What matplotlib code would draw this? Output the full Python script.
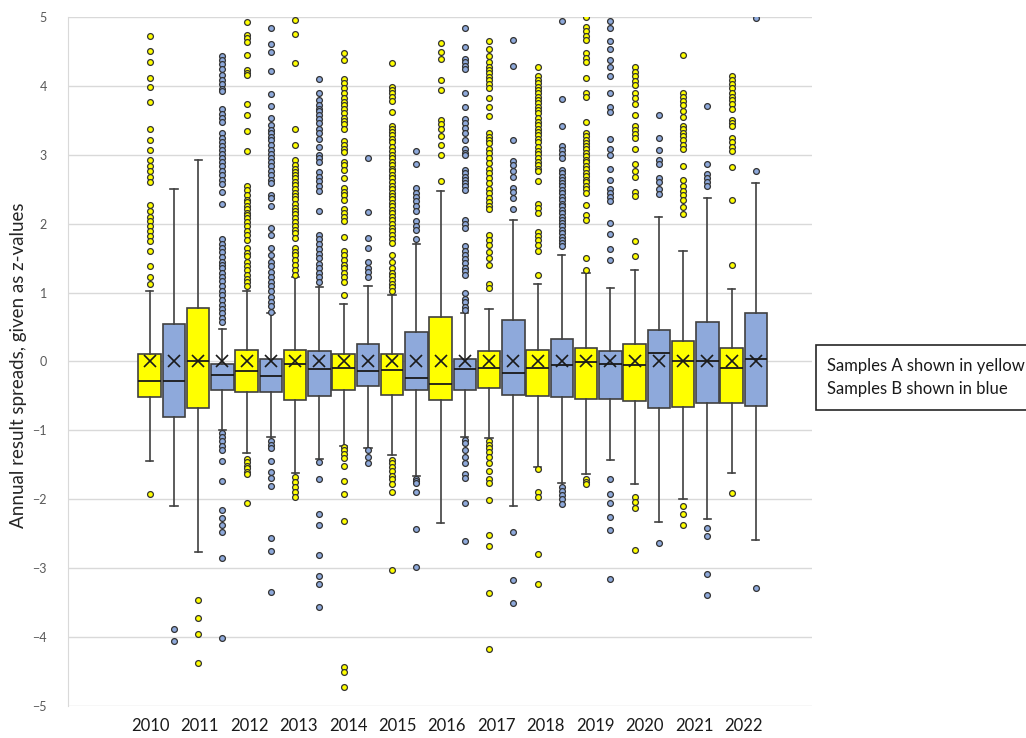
import numpy as np
import matplotlib
matplotlib.use('Agg')
import matplotlib.pyplot as plt
from matplotlib.patches import Rectangle

plt.rcParams['font.family'] = ['Lato', 'DejaVu Sans']

years = ['2010', '2011', '2012', '2013', '2014', '2015', '2016',
         '2017', '2018', '2019', '2020', '2021', '2022']

# Samples A (yellow boxes)
a_q1 = [-0.51, -0.68, -0.44, -0.56, -0.42, -0.48, -0.56, -0.38, -0.50, -0.54, -0.58, -0.66, -0.60]
a_med = [-0.28, 0.00, -0.14, -0.03, -0.09, -0.13, -0.32, -0.09, -0.09, -0.01, -0.05, 0.01, -0.09]
a_q3 = [0.11, 0.78, 0.17, 0.17, 0.11, 0.11, 0.65, 0.15, 0.17, 0.19, 0.25, 0.29, 0.19]
a_lo = [-1.44, -2.77, -1.33, -1.62, -1.22, -1.36, -2.34, -1.11, -1.53, -1.64, -1.78, -2.00, -1.62]
a_hi = [1.03, 2.93, 1.03, 1.23, 0.84, 0.97, 2.47, 0.76, 1.13, 1.28, 1.33, 1.61, 1.05]
a_mean = [0.0] * 13
a_fliers = [
    [4.73, 4.51, 4.35, 4.12, 3.98, 3.76, 3.37, 3.21, 3.07, 2.93, 2.84, 2.77, 2.68, 2.61, 2.27,
     2.18, 2.10, 2.04, 1.96, 1.90, 1.82, 1.75, 1.61, 1.38, 1.22, 1.13, -1.93],
    [-3.46, -3.72, -3.95, -4.37],
    [4.92, 4.74, 4.69, 4.63, 4.45, 4.23, 4.18, 4.16, 3.73, 3.58, 3.35, 3.05, 2.55, 2.49, 2.42,
     2.35, 2.31, 2.26, 2.21, 2.16, 2.13, 2.08, 2.03, 1.96, 1.90, 1.83, 1.77, 1.65, 1.58, 1.53,
     1.45, 1.39, 1.33, 1.26, 1.20, 1.15, 1.10,
     -1.41, -1.46, -1.51, -1.55, -1.60, -1.64, -2.06],
    [4.96, 4.75, 4.33, 3.37, 3.14, 2.92, 2.85, 2.80, 2.75, 2.71, 2.66, 2.61, 2.56, 2.51, 2.45,
     2.40, 2.36, 2.29, 2.23, 2.18, 2.14, 2.08, 2.02, 1.96, 1.91, 1.86, 1.79, 1.65, 1.59, 1.54,
     1.47, 1.40, 1.33, 1.25,
     -1.68, -1.75, -1.82, -1.89, -1.96],
    [4.47, 4.37, 4.10, 4.04, 3.97, 3.89, 3.83, 3.77, 3.72, 3.66, 3.60, 3.54, 3.49, 3.44, 3.37,
     3.20, 3.14, 3.09, 3.04, 2.90, 2.85, 2.78, 2.66, 2.52, 2.46, 2.41, 2.35, 2.21, 2.15, 2.10,
     2.04, 1.81, 1.60, 1.55, 1.48, 1.40, 1.35, 1.29, 1.22, 1.16, 0.97,
     -1.24, -1.29, -1.34, -1.40, -1.52, -1.73, -1.93, -2.32, -4.43, -4.51, -4.72],
    [4.33, 3.99, 3.94, 3.89, 3.84, 3.78, 3.62, 3.42, 3.37, 3.33, 3.28, 3.23, 3.18, 3.12, 3.05,
     3.00, 2.95, 2.90, 2.85, 2.80, 2.76, 2.71, 2.66, 2.60, 2.55, 2.50, 2.45, 2.40, 2.36, 2.30,
     2.25, 2.20, 2.15, 2.10, 2.05, 1.99, 1.94, 1.89, 1.83, 1.78, 1.72, 1.55, 1.45, 1.35, 1.29,
     1.24, 1.18, 1.13, 1.08, 1.02,
     -1.43, -1.48, -1.53, -1.59, -1.66, -1.71, -1.78, -1.89, -3.03],
    [4.62, 4.49, 4.39, 4.09, 3.94, 3.50, 3.44, 3.37, 3.27, 3.14, 3.00, 2.62],
    [4.65, 4.54, 4.43, 4.35, 4.28, 4.23, 4.18, 4.13, 4.09, 4.02, 3.97, 3.82, 3.70, 3.56, 3.31,
     3.26, 3.21, 3.17, 3.09, 3.02, 2.95, 2.88, 2.80, 2.73, 2.66, 2.59, 2.51, 2.45, 2.37, 2.31,
     2.25, 2.21, 1.83, 1.76, 1.69, 1.59, 1.50, 1.40, 1.13, 1.06,
     -1.16, -1.21, -1.25, -1.31, -1.38, -1.47, -1.59, -1.70, -1.76, -2.01, -2.52, -2.68, -3.36, -4.17],
    [4.27, 4.14, 4.09, 4.04, 3.99, 3.94, 3.89, 3.84, 3.80, 3.75, 3.70, 3.65, 3.60, 3.54, 3.48,
     3.43, 3.37, 3.33, 3.28, 3.23, 3.18, 3.12, 3.05, 3.01, 2.95, 2.90, 2.85, 2.80, 2.76, 2.62,
     2.29, 2.23, 2.16, 1.88, 1.82, 1.76, 1.69, 1.60, 1.26,
     -1.56, -1.89, -1.97, -2.79, -3.23],
    [5.00, 4.86, 4.79, 4.73, 4.67, 4.47, 4.40, 4.34, 4.11, 3.90, 3.84, 3.47, 3.32, 3.27, 3.22,
     3.17, 3.13, 3.08, 3.03, 2.98, 2.93, 2.89, 2.84, 2.79, 2.74, 2.69, 2.64, 2.60, 2.55, 2.50,
     2.45, 2.27, 2.13, 2.05, 1.50, 1.33,
     -1.70, -1.75, -1.78],
    [4.27, 4.20, 4.14, 4.07, 4.01, 3.90, 3.83, 3.73, 3.58, 3.42, 3.36, 3.30, 3.25, 3.09, 2.87,
     2.76, 2.68, 2.46, 2.40, 1.75, 1.53,
     -1.97, -2.04, -2.12, -2.73],
    [4.45, 3.90, 3.84, 3.78, 3.72, 3.63, 3.55, 3.42, 3.37, 3.32, 3.27, 3.21, 3.14, 3.09, 2.84,
     2.64, 2.54, 2.47, 2.42, 2.35, 2.24, 2.14,
     -2.10, -2.22, -2.38],
    [4.14, 4.09, 4.02, 3.97, 3.90, 3.84, 3.80, 3.73, 3.67, 3.51, 3.46, 3.42, 3.24, 3.18, 3.12,
     3.06, 2.82, 2.35, 1.40,
     -1.91],
]

# Samples B (blue boxes)
b_q1 = [-0.80, -0.42, -0.44, -0.50, -0.36, -0.42, -0.42, -0.48, -0.52, -0.54, -0.68, -0.60, -0.64]
b_med = [-0.28, -0.20, -0.21, -0.11, -0.14, -0.24, -0.11, -0.17, -0.05, -0.03, 0.13, 0.00, 0.03]
b_q3 = [0.54, -0.03, 0.03, 0.15, 0.25, 0.43, 0.04, 0.60, 0.33, 0.15, 0.46, 0.58, 0.70]
b_lo = [-2.10, -0.99, -1.09, -1.41, -1.25, -1.66, -1.09, -2.10, -1.76, -1.43, -2.33, -2.29, -2.59]
b_hi = [2.51, 0.47, 0.70, 1.08, 1.09, 1.70, 0.70, 2.06, 1.55, 1.06, 2.10, 2.37, 2.59]
b_mean = [0.0] * 13
b_fliers = [
    [-3.88, -4.05],
    [4.43, 4.38, 4.32, 4.25, 4.16, 4.09, 4.03, 3.96, 3.92, 3.66, 3.59, 3.53, 3.47, 3.31, 3.25,
     3.19, 3.13, 3.07, 3.01, 2.95, 2.89, 2.83, 2.76, 2.71, 2.64, 2.57, 2.46, 2.28, 1.78, 1.71,
     1.65, 1.59, 1.51, 1.45, 1.40, 1.35, 1.29, 1.23, 1.17, 1.10, 1.02, 0.96, 0.89, 0.82, 0.76,
     0.70, 0.63, 0.58,
     -1.04, -1.10, -1.15, -1.22, -1.28, -1.44, -1.73, -2.16, -2.27, -2.38, -2.48, -2.85, -4.01],
    [4.84, 4.61, 4.49, 4.21, 3.88, 3.71, 3.54, 3.43, 3.36, 3.31, 3.26, 3.21, 3.14, 3.07, 3.01,
     2.95, 2.89, 2.83, 2.76, 2.70, 2.64, 2.59, 2.42, 2.37, 2.25, 1.94, 1.84, 1.65, 1.55, 1.45,
     1.38, 1.30, 1.23, 1.16, 1.09, 1.02, 0.94, 0.87, 0.80, 0.72,
     -1.15, -1.21, -1.26, -1.44, -1.60, -1.69, -1.81, -2.56, -2.75, -3.34],
    [4.10, 3.90, 3.80, 3.72, 3.67, 3.63, 3.58, 3.52, 3.46, 3.38, 3.31, 3.23, 3.12, 3.00, 2.96,
     2.90, 2.75, 2.68, 2.62, 2.55, 2.47, 2.19, 1.84, 1.78, 1.70, 1.63, 1.56, 1.50, 1.42, 1.36,
     1.29, 1.22, 1.16,
     -1.46, -1.71, -2.22, -2.38, -2.81, -3.11, -3.23, -3.56],
    [2.96, 2.17, 1.79, 1.65, 1.45, 1.36, 1.30, 1.23,
     -1.29, -1.38, -1.47],
    [3.05, 2.87, 2.52, 2.45, 2.39, 2.33, 2.26, 2.18, 2.04, 1.97, 1.91, 1.78,
     -1.70, -1.74, -1.77, -1.89, -2.43, -2.99],
    [4.84, 4.57, 4.39, 4.34, 4.29, 4.24, 3.90, 3.70, 3.52, 3.46, 3.39, 3.32, 3.22, 3.09, 3.02,
     2.99, 2.78, 2.73, 2.68, 2.63, 2.59, 2.54, 2.49, 2.06, 1.99, 1.93, 1.67, 1.61, 1.55, 1.49,
     1.43, 1.36, 1.31, 1.26, 0.99, 0.91, 0.86, 0.79, 0.74,
     -1.14, -1.19, -1.29, -1.38, -1.47, -1.63, -1.69, -2.05, -2.60],
    [4.67, 4.29, 3.21, 2.91, 2.85, 2.76, 2.68, 2.52, 2.46, 2.37, 2.21,
     -2.48, -3.17, -3.50],
    [4.94, 3.81, 3.42, 3.13, 3.07, 3.01, 2.95, 2.78, 2.73, 2.68, 2.63, 2.59, 2.54, 2.49, 2.44,
     2.39, 2.34, 2.29, 2.25, 2.20, 2.15, 2.10, 2.05, 2.01, 1.96, 1.91, 1.86, 1.81, 1.76, 1.72,
     1.67,
     -1.82, -1.88, -1.94, -2.00, -2.07],
    [4.94, 4.84, 4.65, 4.53, 4.37, 4.27, 4.14, 3.90, 3.70, 3.62, 3.23, 3.09, 2.99, 2.80, 2.63,
     2.50, 2.44, 2.38, 2.33, 2.01, 1.85, 1.63, 1.48,
     -1.71, -1.93, -2.05, -2.26, -2.44, -3.15],
    [3.58, 3.24, 3.07, 2.92, 2.87, 2.67, 2.60, 2.50, 2.43,
     -2.64],
    [3.71, 2.87, 2.72, 2.66, 2.60, 2.54,
     -2.42, -2.54, -3.09, -3.39],
    [4.98, 2.76,
     -3.29],
]


def make_stats(q1, med, q3, lo, hi, mean, fliers):
    return [dict(q1=q1[i], med=med[i], q3=q3[i], whislo=lo[i], whishi=hi[i],
                 mean=mean[i], fliers=fliers[i]) for i in range(len(q1))]


def main() -> None:
    fig = plt.figure(figsize=(10.26, 7.38), dpi=100)
    ax = fig.add_axes([0.066, 0.0434, 0.725, 0.9336])

    edge = '#404040'
    series = [
        (make_stats(a_q1, a_med, a_q3, a_lo, a_hi, a_mean, a_fliers), '#FFFF00', 0),
        (make_stats(b_q1, b_med, b_q3, b_lo, b_hi, b_mean, b_fliers), '#8EA9DB', 1),
    ]
    for stats, color, offset in series:
        pos = 2 * np.arange(len(stats)) + offset
        ax.bxp(stats, positions=pos, widths=0.93, capwidths=0.3,
               patch_artist=True, showmeans=True,
               boxprops=dict(facecolor=color, edgecolor=edge, linewidth=1.2),
               medianprops=dict(color='#1a1a1a', linewidth=1.3),
               whiskerprops=dict(color=edge, linewidth=1.2),
               capprops=dict(color=edge, linewidth=1.2),
               meanprops=dict(marker='x', markeredgecolor='#1a1a1a',
                              markersize=8, markeredgewidth=1.2),
               flierprops=dict(marker='o', markerfacecolor=color,
                               markeredgecolor='#333333', markersize=4.2,
                               markeredgewidth=0.9))

    ax.set_ylim(-5, 5)
    ax.set_xlim(-3.38, 27.3)
    ax.set_yticks(np.arange(-5, 6, 1))
    ax.set_xticks(np.arange(len(years)) * 2.04 + 0.02)
    ax.set_xticklabels(years)
    ax.yaxis.grid(True, color='#D9D9D9', linewidth=1)
    ax.set_axisbelow(True)
    for side in ['top', 'right', 'bottom']:
        ax.spines[side].set_visible(False)
    ax.spines['left'].set_color('#D9D9D9')
    ax.tick_params(axis='y', length=0, labelsize=9, labelcolor='#595959', pad=15)
    ax.tick_params(axis='x', length=0, labelsize=12, labelcolor='#1a1a1a', pad=9)

    fig.text(0.018, 0.505, 'Annual result spreads, given as z-values',
             rotation=90, ha='center', va='center', fontsize=13.5, color='#262626')

    # text box at the right
    fig.patches.append(Rectangle((0.795, 1 - 410 / 738), 0.25, 65 / 738,
                                 transform=fig.transFigure, facecolor='white',
                                 edgecolor='#262626', linewidth=1.2))
    fig.text(0.806, 1 - 366 / 738, 'Samples A shown in yellow',
             va='center', ha='left', fontsize=12, color='#1a1a1a')
    fig.text(0.806, 1 - 389 / 738, 'Samples B shown in blue',
             va='center', ha='left', fontsize=12, color='#1a1a1a')

    fig.savefig('out.png', dpi=100)


if __name__ == "__main__":
    main()
